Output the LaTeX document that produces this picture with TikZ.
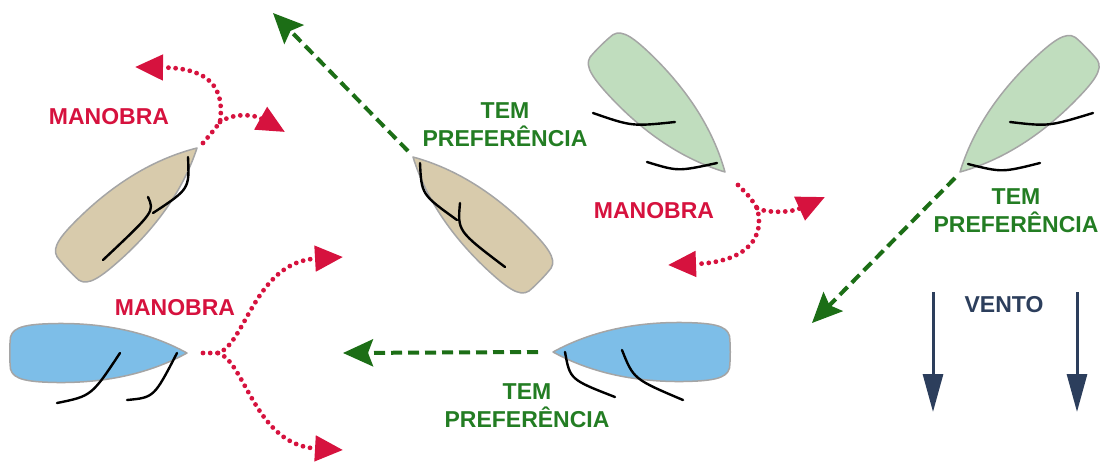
\documentclass[tikz,border=0pt]{standalone}
\usepackage{fontspec}
\setmainfont{Liberation Sans}
\usetikzlibrary{arrows.meta}

\definecolor{manred}{RGB}{214,18,62}
\definecolor{preftext}{RGB}{35,125,35}
\definecolor{prefline}{RGB}{28,110,22}
\definecolor{windnavy}{RGB}{44,62,92}
\definecolor{tanhull}{RGB}{216,203,172}
\definecolor{greenhull}{RGB}{192,221,190}
\definecolor{bluehull}{RGB}{125,190,232}
\definecolor{hulledge}{RGB}{165,165,165}

\tikzset{
  hull/.pic={
    \draw[draw=hulledge, line width=1.5pt, line join=round, pic actions]
      (0,0) .. controls (-40,-22) and (-85,-30) .. (-130,-29.5)
      .. controls (-158,-29) and (-174,-27) .. (-176.5,-16)
      .. controls (-177.5,-8) and (-177.5,8) .. (-176.5,16)
      .. controls (-174,27) and (-158,29) .. (-130,29.5)
      .. controls (-85,30) and (-40,22) .. (0,0) -- cycle;
  },
  sail/.style={line width=2.4pt, line cap=round, black},
  label/.style={font=\bfseries\fontsize{23}{28}\selectfont, inner sep=0pt, align=center},
  mantext/.style={label, text=manred},
  preftxt/.style={label, text=preftext},
  manpath/.style={manred, line width=4.8pt, line cap=round, dash pattern=on 0pt off 7.2pt},
  mantip/.style={-{Triangle[length=28pt,width=25pt]}},
  prefpath/.style={prefline, line width=4pt, dash pattern=on 11pt off 6pt,
    -{Stealth[length=30pt,width=27pt,inset=5pt]}},
  windpath/.style={windnavy, line width=3pt, -{Triangle[length=38pt,width=20pt]}}
}

\begin{document}
\begin{tikzpicture}[x=1pt,y=-1pt]
\useasboundingbox (0,0) rectangle (1103,464);

% hulls
\pic[fill=tanhull, rotate=43]    (boatA) at (197,148) {hull};
\pic[fill=tanhull, rotate=136]   (boatB) at (413,157) {hull};
\pic[fill=greenhull, rotate=-45.6] (boatC) at (725,172) {hull};
\pic[fill=greenhull, rotate=-135.7] (boatD) at (960,172) {hull};
\pic[fill=bluehull, rotate=0]    (boatE) at (187,353) {hull};
\pic[fill=bluehull, rotate=180]  (boatF) at (553,352) {hull};

% sails
\draw[sail] (188,157) .. controls (189.5,189) .. (153,213);
\draw[sail] (148,197) .. controls (154.5,211.5) .. (103,260);
\draw[sail] (420,163) .. controls (421.5,194.5) .. (457,220);
\draw[sail] (460,203) .. controls (457.5,231) .. (505,267);
\draw[sail] (593,113) .. controls (632,126.5) .. (675,122);
\draw[sail] (647,162) .. controls (678,171.5) .. (717,163);
\draw[sail] (1010,122) .. controls (1048.5,126.5) .. (1093,113);
\draw[sail] (968,164) .. controls (1002,172.5) .. (1040,163);
\draw[sail] (57,403) .. controls (91.5,396) .. (120,353);
\draw[sail] (127,400) .. controls (154,397.5) .. (177,353);
\draw[sail] (565,352) .. controls (570,379.5) .. (615,397);
\draw[sail] (622,350) .. controls (633.5,379) .. (683,400);

% labels
\node[mantext] (man1) at (109,116.5) {MANOBRA};
\node[mantext] (man2) at (654,211) {MANOBRA};
\node[mantext] (man3) at (175,307.5) {MANOBRA};
\node[preftxt] (pref1) at (505,124.5) {TEM\\PREFERÊNCIA};
\node[preftxt] (pref2) at (1016,210.5) {TEM\\PREFERÊNCIA};
\node[preftxt] (pref3) at (527,405.5) {TEM\\PREFERÊNCIA};
\node[label, text=windnavy] (vento) at (1004,305) {VENTO};

% manoeuvre paths
\coordinate (sA) at (203,143);  \coordinate (jA) at (220,122);
\coordinate (tA1) at (135,67);  \coordinate (tA2) at (285,132);
\coordinate (sC) at (738,185);  \coordinate (jC) at (757,208);
\coordinate (tC1) at (825,197); \coordinate (tC2) at (668,265);
\coordinate (sE) at (203,353);  \coordinate (jE) at (218,353);
\coordinate (tE1) at (343,257); \coordinate (tE2) at (343,450);

\draw[manpath, mantip] (sA) .. controls (214,130) .. (jA)
  .. controls (226,80) and (200,68) .. (tA1);
\draw[manpath, mantip] (jA) .. controls (235,112) and (255,115) .. (tA2);
\draw[manpath, mantip] (sC) .. controls (750,197) .. (jC)
  .. controls (765,235) and (750,262) .. (tC2);
\draw[manpath, mantip] (jC) .. controls (765,213) and (790,213) .. (tC1);
\draw[manpath, mantip] (sE) -- (jE) .. controls (245,345) and (255,262) .. (tE1);
\draw[manpath, mantip] (jE) .. controls (245,361) and (255,445) .. (tE2);

% right-of-way courses
\coordinate (bowB) at (408,151);  \coordinate (endB) at (273,13);
\coordinate (bowD) at (955,178);  \coordinate (endD) at (812,323);
\coordinate (bowF) at (538,352);  \coordinate (endF) at (343,353);
\draw[prefpath] (bowB) -- (endB);
\draw[prefpath] (bowD) -- (endD);
\draw[prefpath] (bowF) -- (endF);

% wind
\coordinate (w1s) at (933,292); \coordinate (w1e) at (933,412);
\coordinate (w2s) at (1077,292); \coordinate (w2e) at (1077,412);
\draw[windpath] (w1s) -- (w1e);
\draw[windpath] (w2s) -- (w2e);
\end{tikzpicture}
\end{document}
